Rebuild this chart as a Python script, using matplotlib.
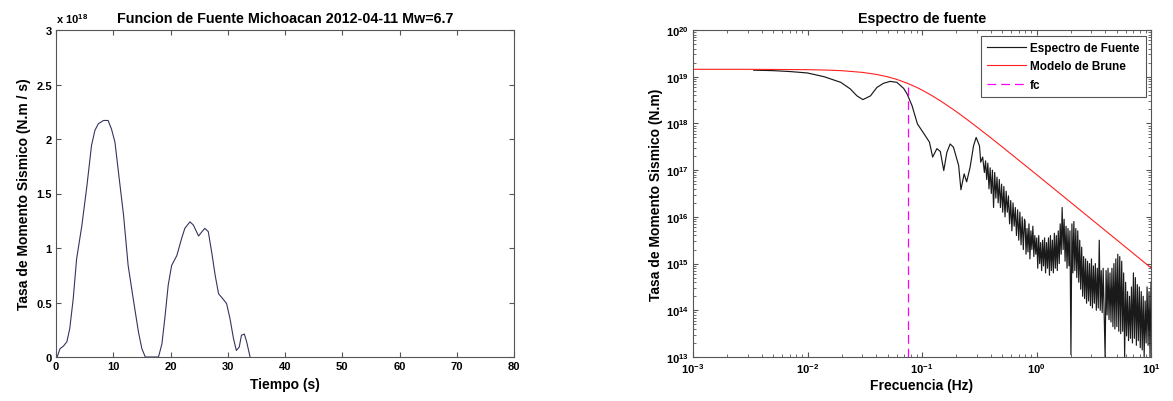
import numpy as np
import matplotlib
matplotlib.use("Agg")
import matplotlib.pyplot as plt
import matplotlib.ticker as ticker

plt.rcParams['font.family'] = ['Liberation Sans', 'DejaVu Sans']
plt.rcParams['font.weight'] = 'bold'
plt.rcParams['mathtext.fontset'] = 'custom'
plt.rcParams['mathtext.rm'] = 'Liberation Sans:bold'
plt.rcParams['mathtext.bf'] = 'Liberation Sans:bold'

# ---- source time function (moment rate, in units of 1e18 N.m/s)
tiempo = [0, 0.2, 0.7, 1.3, 1.9, 2.4, 3.0, 3.6, 4.5, 5.4, 6.2, 6.8, 7.4, 8.3, 9.1, 9.7,
          10.3, 10.9, 11.8, 12.6, 13.5, 14.4, 15.0, 15.6, 17.9, 18.5, 19.0, 19.6, 20.2,
          21.1, 21.9, 22.5, 23.4, 24.0, 24.9, 25.5, 26.0, 26.6, 27.2, 27.8, 28.4, 29.2,
          29.8, 30.4, 31.0, 31.5, 32.0, 32.4, 32.9, 33.3, 33.9]
tasa = [0, 0, 0.076, 0.10, 0.14, 0.26, 0.53, 0.90, 1.20, 1.57, 1.94, 2.08, 2.14, 2.17,
        2.17, 2.09, 1.97, 1.70, 1.30, 0.84, 0.53, 0.23, 0.076, 0, 0, 0.12, 0.35, 0.66,
        0.84, 0.93, 1.08, 1.18, 1.24, 1.21, 1.11, 1.15, 1.18, 1.15, 0.96, 0.75, 0.58,
        0.53, 0.49, 0.35, 0.17, 0.06, 0.09, 0.20, 0.21, 0.14, 0]

# ---- source spectrum, low/mid frequencies (log10 Hz, log10 N.m)
esp_lf = [-2.47, -2.30, -2.15, -2.00, -1.855, -1.71, -1.627, -1.568, -1.516, -1.45,
          -1.394, -1.336, -1.278, -1.22, -1.16, -1.13, -1.087, -1.04, -0.98, -0.935,
          -0.907, -0.87, -0.84, -0.81, -0.783, -0.754, -0.725, -0.68, -0.66, -0.632,
          -0.61, -0.58, -0.55, -0.527, -0.498, -0.487, -0.47, -0.455, -0.445, -0.435,
          -0.425, -0.415, -0.405, -0.395, -0.385, -0.375, -0.365, -0.355, -0.345, -0.335,
          -0.325, -0.315, -0.305, -0.295, -0.285, -0.275, -0.265, -0.255, -0.245, -0.235,
          -0.225, -0.215, -0.205, -0.195, -0.185, -0.175, -0.165, -0.155, -0.145, -0.135,
          -0.125, -0.115, -0.105]
esp_lm = [19.14, 19.13, 19.11, 19.08, 19.00, 18.88, 18.74, 18.59, 18.51, 18.59,
          18.77, 18.86, 18.90, 18.88, 18.75, 18.63, 18.38, 17.99, 17.77, 17.60,
          17.28, 17.46, 17.40, 16.99, 17.38, 17.56, 17.49, 17.10, 16.58, 16.92,
          16.75, 17.06, 17.52, 17.70, 17.52, 17.17, 17.28, 16.95, 17.20, 16.80,
          17.15, 16.60, 17.05, 16.50, 17.00, 16.20, 16.95, 16.40, 16.85, 16.30,
          16.80, 16.20, 16.70, 16.10, 16.65, 16.00, 16.55, 16.10, 16.45, 15.85,
          16.35, 15.70, 16.30, 15.80, 16.20, 15.60, 16.15, 15.50, 16.10, 15.40,
          16.00, 15.30, 15.95]

# ---- source spectrum, dense high-frequency part (0.79 - 10 Hz, log10 N.m)
esp_hf_lm = [15.90, 15.20, 15.75, 15.25, 15.85, 15.10, 15.70, 15.30, 15.80, 15.15,
             15.60, 15.20, 15.55, 14.90, 15.60, 15.00, 15.45, 14.85, 15.50, 14.95,
             15.55, 14.80, 15.45, 14.90, 15.55, 14.75, 15.60, 14.85, 15.50, 14.80,
             15.65, 14.90, 15.60, 14.85, 15.70, 15.00, 15.85, 15.20, 16.20, 15.30,
             15.95, 15.05, 15.80, 14.90, 15.75, 14.95, 15.70, 13.05, 15.85, 14.80,
             15.90, 14.85, 15.75, 14.70, 15.70, 14.60, 15.50, 14.45, 15.35, 14.30,
             15.15, 14.25, 15.10, 14.15, 15.05, 14.20, 15.00, 14.10, 15.10, 14.05,
             14.95, 14.15, 15.00, 14.00, 14.90, 14.05, 15.50, 14.00, 14.85, 13.95,
             14.90, 14.00, 13.00, 14.85, 13.90, 14.90, 13.80, 14.80, 13.75, 14.90,
             13.65, 15.00, 13.60, 15.10, 13.65, 15.20, 13.55, 15.15, 13.50, 15.05,
             13.55, 14.80, 13.00, 14.60, 13.45, 14.40, 13.35, 14.30, 13.40, 14.50,
             13.30, 14.80, 13.40, 14.70, 13.25, 14.55, 13.35, 14.50, 13.20, 14.40,
             13.15, 14.30, 13.00, 14.20, 13.30, 14.50, 13.25, 14.40, 13.00, 14.60]
esp_hf_f = np.geomspace(10 ** -0.1, 10.0, len(esp_hf_lm))

# ---- Brune model
brune_f = [0.001, 0.003, 0.01, 0.015, 0.02, 0.03, 0.04, 0.05, 0.06, 0.075, 0.09, 0.1,
           0.12, 0.15, 0.2, 0.25, 0.3, 0.4, 0.5, 0.7, 1, 2, 5, 10]
brune_m = [1.44e19, 1.44e19, 1.415e19, 1.385e19, 1.345e19, 1.24e19, 1.12e19, 9.97e18,
           8.78e18, 7.2e18, 5.9e18, 5.18e18, 4.04e18, 2.88e18, 1.78e18, 1.19e18,
           8.47e17, 4.9e17, 3.17e17, 1.63e17, 8.06e16, 2.02e16, 3.24e15, 8.1e14]

fc = 0.075
fc_top = 6.6e18

fig = plt.figure(figsize=(11.73, 4.02), dpi=100)
ax1 = fig.add_axes([56 / 1173, 44 / 402, 458 / 1173, 327 / 402])
ax2 = fig.add_axes([693 / 1173, 44 / 402, 458 / 1173, 327 / 402])

edge = '#555555'
for ax in (ax1, ax2):
    for s in ax.spines.values():
        s.set_color(edge)
        s.set_linewidth(0.8)
    ax.tick_params(which='both', direction='in', top=True, right=True,
                   labelsize=8, color=edge, pad=3)
    ax.tick_params(which='major', length=3.5)
    ax.tick_params(which='minor', length=2)

# left panel
ax1.plot(tiempo, tasa, color='#34345e', lw=0.8)
ax1.set_xlim(0, 80)
ax1.set_ylim(0, 3)
ax1.set_xticks(np.arange(0, 81, 10))
ax1.set_yticks(np.arange(0, 3.01, 0.5))
ax1.yaxis.set_major_formatter(ticker.FormatStrFormatter('%g'))
ax1.set_title('Funcion de Fuente Michoacan 2012-04-11 Mw=6.7', fontsize=10.3,
              fontweight='bold', pad=6)
ax1.set_xlabel('Tiempo (s)', fontsize=10, fontweight='bold', labelpad=4)
ax1.set_ylabel('Tasa de Momento Sismico (N.m / s)', fontsize=10, fontweight='bold',
               labelpad=4)
ax1.text(0.0, 1.015, r'x 10$^{18}$', transform=ax1.transAxes, fontsize=8,
         fontweight='bold', ha='left', va='bottom')

# right panel
esp_f = list(10 ** np.array(esp_lf)) + list(esp_hf_f)
esp_m = list(10 ** np.array(esp_lm)) + list(10 ** np.array(esp_hf_lm))
ax2.loglog(esp_f, esp_m, color='#1a1a1a', lw=0.85, label='Espectro de Fuente')
ax2.loglog(brune_f, brune_m, color='#ff2020', lw=0.8, label='Modelo de Brune')
ax2.plot([fc, fc], [1e13, fc_top], color='#ff00ff', lw=0.9, ls=(0, (7, 4)), label='fc')
ax2.set_xlim(1e-3, 1e1)
ax2.set_ylim(1e13, 1e20)
decadas_x = [1e-3, 1e-2, 1e-1, 1e0, 1e1]
decadas_y = [1e13, 1e14, 1e15, 1e16, 1e17, 1e18, 1e19, 1e20]
ax2.set_xticks(decadas_x)
ax2.set_yticks(decadas_y)
ax2.xaxis.set_minor_locator(ticker.LogLocator(base=10, subs=np.arange(2, 10), numticks=20))
ax2.yaxis.set_minor_locator(ticker.LogLocator(base=10, subs=np.arange(2, 10), numticks=20))
fmt = ticker.FuncFormatter(lambda v, _: r'$10^{%d}$' % int(round(np.log10(v))))
ax2.xaxis.set_major_formatter(fmt)
ax2.yaxis.set_major_formatter(fmt)
ax2.xaxis.set_minor_formatter(ticker.NullFormatter())
ax2.yaxis.set_minor_formatter(ticker.NullFormatter())
ax2.set_xlim(1e-3, 1e1)
ax2.set_ylim(1e13, 1e20)
ax2.set_title('Espectro de fuente', fontsize=10.3, fontweight='bold', pad=6)
ax2.set_xlabel('Frecuencia (Hz)', fontsize=10, fontweight='bold', labelpad=2)
ax2.set_ylabel('Tasa de Momento Sismico (N.m)', fontsize=10, fontweight='bold', labelpad=2)
leg = ax2.legend(loc='upper right', bbox_to_anchor=(0.988, 0.982), fontsize=8.5,
                 frameon=True, fancybox=False, edgecolor=edge, framealpha=1,
                 handlelength=3.3, handletextpad=0.4, borderaxespad=0.0,
                 labelspacing=0.55, borderpad=0.5)
leg.get_frame().set_linewidth(0.8)

fig.savefig('out.png', dpi=100)
